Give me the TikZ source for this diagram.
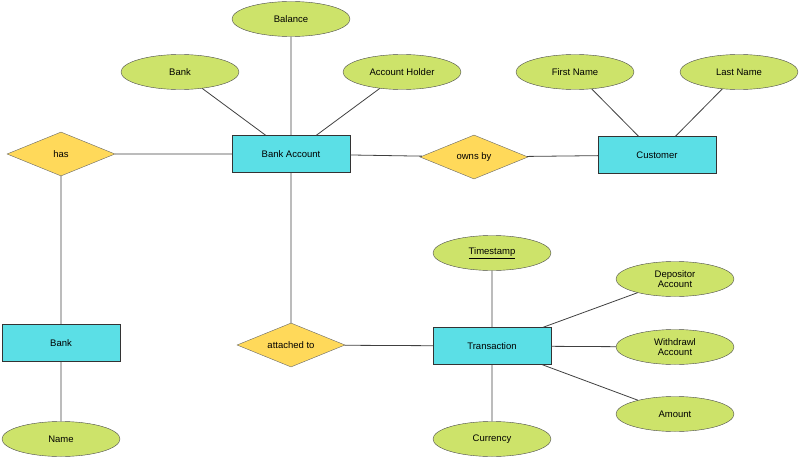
\documentclass[tikz,border=0pt]{standalone}
\usepackage{fontspec}
\setmainfont{Liberation Sans}
\usetikzlibrary{shapes.geometric}
\definecolor{attrc}{HTML}{CDE36A}
\definecolor{ent}{HTML}{5BDFE6}
\definecolor{rel}{HTML}{FFD95A}
\begin{document}
\begin{tikzpicture}[x=1pt,y=-1pt,
  every node/.style={font=\fontsize{9.5}{10.5}\selectfont,align=center},
  att/.style={ellipse,draw=black!70,fill=attrc,minimum width=118pt,minimum height=35pt,inner sep=0pt},
  en/.style={rectangle,draw=black!80,fill=ent,minimum width=118pt,minimum height=37pt},
  rl/.style={diamond,draw=black!60,fill=rel,minimum width=108pt,minimum height=44pt,inner sep=0pt,aspect=2.5},
  ln/.style={draw=black!75,line width=0.8pt}]
\useasboundingbox (0,0) rectangle (800,460);
\node[att] (bal) at (291,19) {Balance};
\node[att] (bk) at (180,72) {Bank};
\node[att] (ah) at (402,72) {Account Holder};
\node[att] (fn) at (575,72) {First Name};
\node[att] (lnm) at (739,72) {Last Name};
\node[rl] (has) at (61,154) {has};
\node[en] (ba) at (291,154) {Bank Account};
\node[rl] (own) at (474,157) {owns by};
\node[en] (cu) at (657,155) {Customer};
\node[att] (ts) at (492,253) {\underline{Timestamp}};
\node[att] (dep) at (675,279) {Depositor\\Account};
\node[att] (wd) at (675,347) {Withdrawl\\Account};
\node[att] (am) at (675,414) {Amount};
\node[att] (cur) at (492,439) {Currency};
\node[en] (tr) at (492,346) {Transaction};
\node[rl] (atto) at (291,345) {attached to};
\node[en] (b2) at (61,343) {Bank};
\node[att] (nm) at (61,439) {Name};
\path[ln] (bal) -- (ba) (bk) -- (ba) (ah) -- (ba) (has) -- (ba) (ba) -- (own) (own) -- (cu)
 (fn) -- (cu) (lnm) -- (cu) (has) -- (b2) (b2) -- (nm) (ba) -- (atto) (atto) -- (tr)
 (ts) -- (tr) (dep) -- (tr) (wd) -- (tr) (am) -- (tr) (cur) -- (tr);
\end{tikzpicture}
\end{document}
